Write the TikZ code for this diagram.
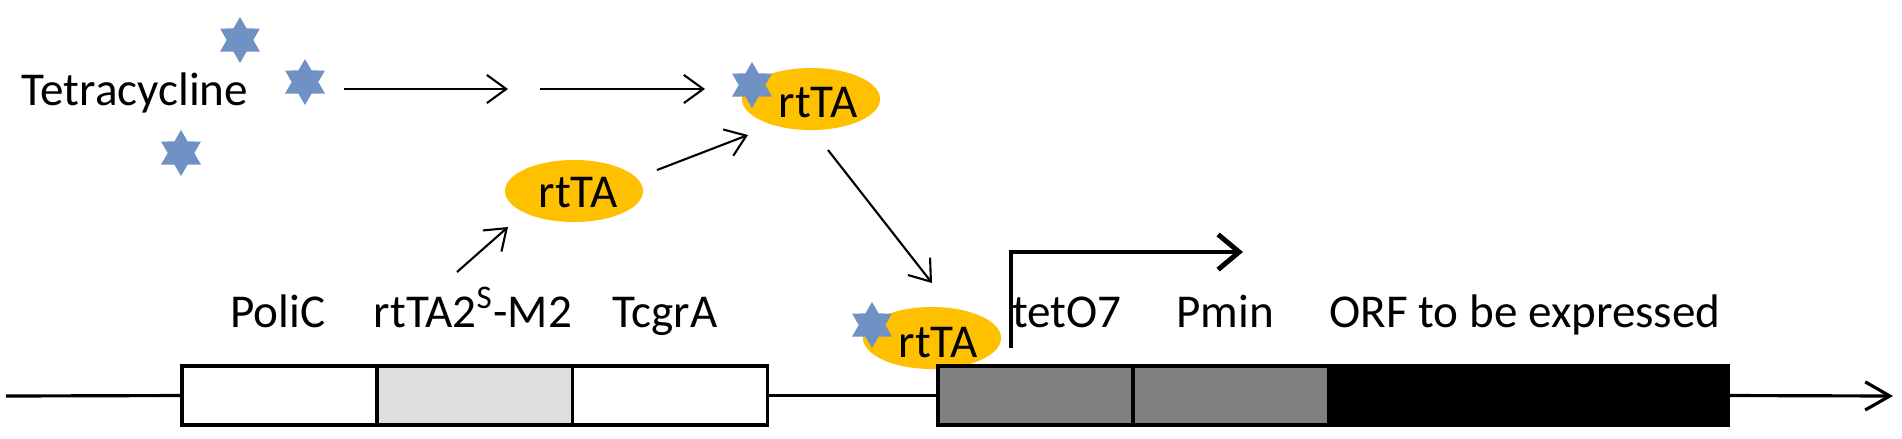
\documentclass[tikz,border=0pt]{standalone}
\usepackage{fontspec}
\setmainfont{Carlito}
\usetikzlibrary{positioning,shapes.geometric,arrows.meta}
\definecolor{tetblue}{RGB}{111,145,196}
\definecolor{rttagold}{RGB}{255,192,0}

\begin{document}
\begin{tikzpicture}[x=0.01cm,y=-0.01cm,
  font=\fontsize{13.4pt}{15pt}\selectfont,
  tet/.style={star,star points=6,star point ratio=1.73,fill=tetblue,inner sep=0pt,minimum size=0.46cm},
  rtta/.style={ellipse,fill=rttagold,inner sep=0pt,minimum width=1.38cm,minimum height=0.62cm},
  lbl/.style={anchor=base,inner sep=0pt},
  arr/.style={-{Straight Barb[length=5.5pt,width=8pt]},line width=0.6pt},
  seg/.style={draw,line width=0.9pt,minimum height=0.59cm,inner sep=0pt,outer sep=0pt}]
  \useasboundingbox (0,0) rectangle (1902,438);
  % tetracycline
  \node[lbl] (tetlabel) at (135,105) {Tetracycline};
  \node[tet] (tet1) at (240,40) {};
  \node[tet] (tet2) at (305,82) {};
  \node[tet] (tet3) at (181,153) {};
  % rtTA, free and bound
  \node[rtta] (rtta) at (574,191) {};
  \node[lbl] (rttatxt) at (578,207) {rtTA};
  \node[rtta] (rttatet) at (811,99) {};
  \node[tet] (tet4) at (752,85) {};
  \node[lbl] (rttatettxt) at (818,117) {rtTA};
  \node[rtta] (rttabound) at (932,338) {};
  \node[tet] (tet5) at (872,325) {};
  \node[lbl] (rttaboundtxt) at (938,357) {rtTA};
  % cassettes
  \node[seg,fill=white,minimum width=1.95cm] (polic) at (279.5,395.5) {};
  \node[seg,fill=gray!25,minimum width=1.95cm,right=0pt of polic] (cds) {};
  \node[seg,fill=white,minimum width=1.95cm,right=0pt of cds] (tcgra) {};
  \node[seg,fill=gray,minimum width=1.95cm] (teto) at (1035.5,395.5) {};
  \node[seg,fill=gray,minimum width=1.95cm,right=0pt of teto] (pmin) {};
  \node[seg,fill=black,minimum width=4cm,right=0pt of pmin] (orf) {};
  \coordinate (dnastart) at (6,396);
  \coordinate (dnaend) at (1893,396);
  \draw[line width=0.9pt] (dnastart) -- (polic.west);
  \draw[line width=0.9pt] (tcgra.east) -- (teto.west);
  \draw[line width=0.9pt,-{Straight Barb[length=7pt,width=8pt]}] (orf.east) -- (dnaend);
  \node[lbl] (policlbl) at (278,327) {PoliC};
  \node[lbl] (cdslbl) at (473,327) {rtTA2\textsuperscript{S}-M2};
  \node[lbl] (tcgralbl) at (665,327) {TcgrA};
  \node[lbl] (tetolbl) at (1067,327) {tetO7};
  \node[lbl] (pminlbl) at (1225,327) {Pmin};
  \node[lbl] (orflbl) at (1525,327) {ORF to be expressed};
  % promoter
  \coordinate (tss) at (1011,348);
  \coordinate (tssend) at (1243,252);
  \draw[line width=1.4pt,-{Straight Barb[length=6pt,width=10pt]}] (tss) |- (tssend);
  % arrows
  \coordinate (a1s) at (344,89);
  \coordinate (a1e) at (508,89);
  \coordinate (a2s) at (540,89);
  \coordinate (a2e) at (705,89);
  \coordinate (a3s) at (457,272);
  \coordinate (a3e) at (508,227);
  \coordinate (a4s) at (657,170);
  \coordinate (a4e) at (748,135);
  \coordinate (a5s) at (828,150);
  \coordinate (a5e) at (932,283);
  \path[arr]
    (a1s) edge (a1e)
    (a2s) edge (a2e)
    (a3s) edge (a3e)
    (a4s) edge (a4e)
    (a5s) edge (a5e);
\end{tikzpicture}
\end{document}
